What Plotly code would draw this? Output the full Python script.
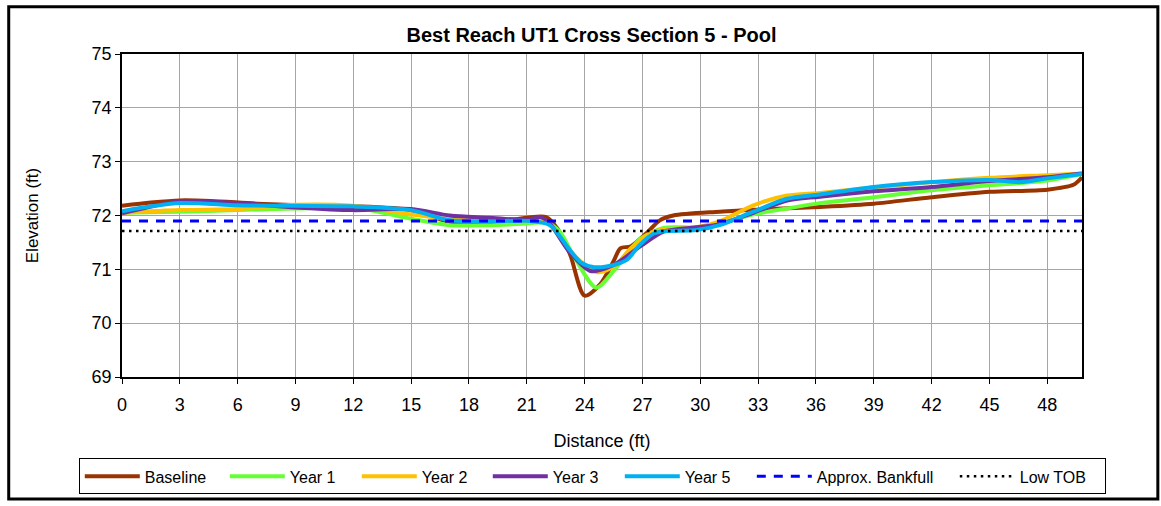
import plotly.graph_objects as go

# ---- data ----
base_x = [0, 1.5, 3, 4.6, 7, 10, 12, 15, 17, 19, 21, 22, 22.6, 23.25, 24.0, 24.8, 25.5, 25.85, 26.4, 27.2, 27.9, 28.6, 31, 33.6, 36.2, 39, 42, 45, 48, 49.35, 49.8]
base_y = [72.18, 72.24, 72.28, 72.27, 72.22, 72.18, 72.17, 72.1, 71.88, 71.86, 71.96, 71.97, 71.75, 71.27, 70.51, 70.72, 71.15, 71.39, 71.43, 71.67, 71.91, 72.0, 72.07, 72.12, 72.16, 72.22, 72.34, 72.44, 72.48, 72.57, 72.71]

y1_x = [0, 3, 6, 9, 12, 15, 17, 19, 21, 22, 22.7, 23.4, 24.6, 25.5, 26.2, 26.9, 28.1, 29.8, 31, 32.75, 34.5, 36.2, 39, 42, 45, 48, 49.8]
y1_y = [72.05, 72.07, 72.1, 72.13, 72.15, 71.94, 71.82, 71.82, 71.85, 71.87, 71.7, 71.27, 70.66, 70.97, 71.29, 71.57, 71.77, 71.78, 71.85, 72.02, 72.13, 72.23, 72.34, 72.47, 72.56, 72.65, 72.77]

y2_x = [0, 3, 6, 9, 12, 15, 17, 19, 21, 22, 23.2, 24.6, 25.5, 26.4, 27.4, 27.9, 29.8, 31, 32.75, 34.5, 36.2, 39, 42, 45, 48, 49.8]
y2_y = [72.05, 72.1, 72.12, 72.2, 72.18, 72.02, 71.93, 71.9, 71.9, 71.9, 71.35, 70.95, 71.05, 71.39, 71.67, 71.73, 71.78, 71.89, 72.19, 72.37, 72.42, 72.52, 72.62, 72.7, 72.75, 72.78]

y3_x = [0, 3, 6, 9, 12, 15, 17, 19, 21, 21.7, 22.2, 23.2, 24.3, 25.5, 26.9, 28.1, 29.8, 31, 32.75, 34.5, 36.2, 39, 42, 45, 48, 49.8]
y3_y = [72.04, 72.26, 72.23, 72.15, 72.1, 72.12, 72.0, 71.96, 71.92, 71.97, 71.85, 71.33, 70.97, 71.08, 71.43, 71.7, 71.78, 71.84, 72.05, 72.28, 72.35, 72.45, 72.53, 72.64, 72.71, 72.78]

y5_x = [0, 3, 6, 9, 12, 15, 17, 19, 21, 22.2, 23.2, 23.8, 24.5, 25.5, 26.2, 26.85, 27.6, 28.1, 29.8, 31, 32.75, 34.5, 36.2, 39, 42, 45, 46.6, 48, 49.8]
y5_y = [72.08, 72.23, 72.19, 72.18, 72.17, 72.1, 71.91, 71.89, 71.9, 71.82, 71.37, 71.13, 71.04, 71.08, 71.18, 71.45, 71.67, 71.71, 71.73, 71.82, 72.07, 72.31, 72.39, 72.53, 72.62, 72.66, 72.62, 72.69, 72.77]

ref_x = [0, 49.8]
bankfull = 71.90
low_tob = 71.71

x_ticks = list(range(0, 49, 3))
y_ticks = [69, 70, 71, 72, 73, 74, 75]

FONT = "Arial, Liberation Sans, sans-serif"

fig = go.Figure()
series = [
    ("Baseline", base_x, base_y, "#993300", 75),
    ("Year 1", y1_x, y1_y, "#66FF33", 62),
    ("Year 2", y2_x, y2_y, "#FFC000", 61),
    ("Year 3", y3_x, y3_y, "#7030A0", 62),
    ("Year 5", y5_x, y5_y, "#00B0F0", 62),
]
for name, xs, ys, col, lw in series:
    fig.add_trace(go.Scatter(x=xs, y=ys, name=name, mode="lines", legendwidth=lw,
                             line=dict(color=col, width=4, shape="spline", smoothing=0.8)))

fig.add_trace(go.Scatter(x=ref_x, y=[bankfull] * 2, name="Approx. Bankfull", mode="lines",
                         legendwidth=133, line=dict(color="#0000FF", width=3, dash="9px,8px")))
fig.add_trace(go.Scatter(x=ref_x, y=[low_tob] * 2, name="Low TOB", mode="lines",
                         legendwidth=80, line=dict(color="black", width=2.5, dash="2.5px,4.5px")))

fig.update_layout(
    width=1161, height=506,
    paper_bgcolor="white", plot_bgcolor="white",
    margin=dict(l=122, r=79, t=54, b=126),
    font=dict(family=FONT, size=18, color="black"),
    title=dict(text="<b>Best Reach UT1 Cross Section 5 - Pool</b>", x=0.5095, xanchor="center",
               y=0.931, yanchor="middle", font=dict(size=20, family=FONT)),
    showlegend=True,
    legend=dict(orientation="h", x=-0.045, xanchor="left", y=-0.252, yanchor="top",
                bordercolor="black", borderwidth=1, font=dict(size=16, family=FONT),
                itemwidth=55, tracegroupgap=0),
    shapes=[dict(type="rect", xref="paper", yref="paper",
                 x0=-0.118, x1=1.079, y0=-0.378, y1=1.146,
                 line=dict(color="black", width=3))],
)
fig.update_xaxes(range=[0, 49.8], tickvals=x_ticks, showgrid=True, gridcolor="#A6A6A6", gridwidth=1,
                 showline=True, linecolor="black", linewidth=1.5, mirror=True,
                 ticks="outside", ticklen=5, tickcolor="black", zeroline=False,
                 tickfont=dict(size=18, family=FONT), ticklabelstandoff=6,
                 title=dict(text="Distance (ft)", font=dict(size=18, family=FONT), standoff=20))
fig.update_yaxes(range=[69, 75], tickvals=y_ticks, showgrid=True, gridcolor="#A6A6A6", gridwidth=1,
                 showline=True, linecolor="black", linewidth=1.5, mirror=True,
                 ticks="outside", ticklen=5, tickcolor="black", zeroline=False,
                 tickfont=dict(size=18, family=FONT),
                 title=dict(text="Elevation (ft)", font=dict(size=17, family=FONT), standoff=49))

fig.write_html("out.html", config={"displayModeBar": False},
               post_script="document.body.style.margin='0px';")
